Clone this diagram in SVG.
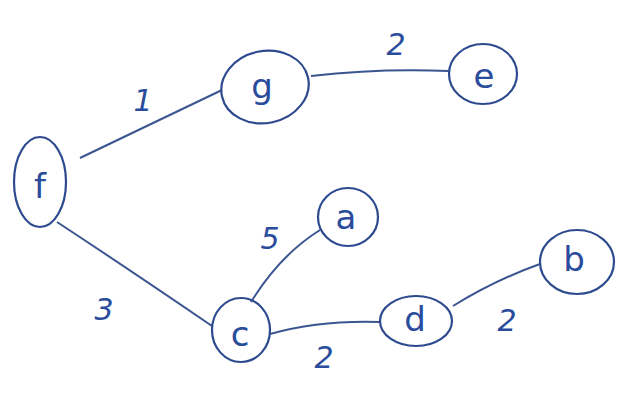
<svg xmlns="http://www.w3.org/2000/svg" width="628" height="394" viewBox="0 0 628 394">
<style>
.n{fill:none;stroke:#2d4a8f;stroke-width:2.2}
.e{fill:none;stroke:#3a5590;stroke-width:2}
.t{font-family:"DejaVu Sans",sans-serif;font-size:34px;fill:#2a4c9c;text-anchor:middle;dominant-baseline:central}
.w{font-family:"DejaVu Sans",sans-serif;font-size:30px;fill:#2a4c9c;text-anchor:middle;dominant-baseline:central;font-style:italic}
</style>
<rect width="628" height="394" fill="#ffffff"/>
<g id="edges">
<path class="e" d="M80,158 L222,90"/>
<path class="e" d="M311,76 Q380,68 449,71"/>
<path class="e" d="M57,222 Q130,270 212,326"/>
<path class="e" d="M251,302 Q280,255 320,230"/>
<path class="e" d="M270,334 Q320,320 380,322"/>
<path class="e" d="M453,306 Q495,280 540,264"/>
<text class="w" x="143" y="100">1</text>
<text class="w" x="396" y="44">2</text>
<text class="w" x="104" y="309">3</text>
<text class="w" x="270" y="238">5</text>
<text class="w" x="324" y="357">2</text>
<text class="w" x="507" y="320">2</text>
</g>
<g id="f"><ellipse class="n" cx="40" cy="182" rx="26" ry="45"/><text class="t" x="40" y="186">f</text></g>
<g id="g"><ellipse class="n" cx="265" cy="87" rx="44" ry="36" transform="rotate(-12 265 87)"/><text class="t" x="262" y="86">g</text></g>
<g id="e"><ellipse class="n" cx="483" cy="74" rx="34" ry="30"/><text class="t" x="484" y="76">e</text></g>
<g id="a"><ellipse class="n" cx="348" cy="217" rx="30" ry="29"/><text class="t" x="346" y="217">a</text></g>
<g id="b"><ellipse class="n" cx="577" cy="262" rx="37" ry="32"/><text class="t" x="574" y="259">b</text></g>
<g id="c"><ellipse class="n" cx="241" cy="330" rx="29" ry="32"/><text class="t" x="240" y="334">c</text></g>
<g id="d"><ellipse class="n" cx="416" cy="321" rx="36" ry="25"/><text class="t" x="415" y="319">d</text></g>
</svg>
